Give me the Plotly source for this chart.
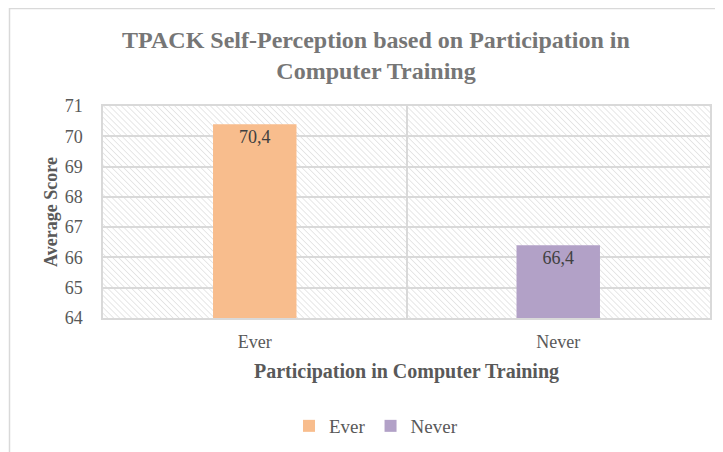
import base64
import plotly.graph_objects as go

categories = ["Ever", "Never"]
scores = [70.4, 66.4]
colors = ["#F8BD8D", "#B2A1C7"]
y_ticks = [64, 65, 66, 67, 68, 69, 70, 71]

title_text = "TPACK Self-Perception based on Participation in<br>Computer Training"
x_title = "Participation in Computer Training"
y_title = "Average Score"

FONT = "Liberation Serif, Times New Roman, serif"
GRID = "#d9d9d9"

# page body has an 8px margin, so the figure is 8px smaller and offset
W, H = 715, 444
L, T, R, B = 95, 98, 13, 134
PW, PH = W - L - R, H - T - B

svg = (
    f"<svg xmlns='http://www.w3.org/2000/svg' width='{PW}' height='{PH}'>"
    "<defs><pattern id='p' width='4.2' height='4.2' patternUnits='userSpaceOnUse' "
    "patternTransform='rotate(-45)'>"
    "<line x1='0' y1='0' x2='0' y2='4.2' stroke='#d4d4d4' stroke-width='1.1'/></pattern></defs>"
    "<rect width='100%' height='100%' fill='white'/>"
    "<rect width='100%' height='100%' fill='url(#p)'/></svg>"
)
svg_uri = "data:image/svg+xml;base64," + base64.b64encode(svg.encode()).decode()

fig = go.Figure()
for cat, val, col in zip(categories, scores, colors):
    fig.add_trace(go.Bar(
        x=[cat], y=[val], name=cat,
        marker=dict(color=col, line=dict(width=0)),
        width=0.275,
        texttemplate="%{y:.1f}", textposition="inside", insidetextanchor="end",
        textfont=dict(family=FONT, size=18, color="#404040"),
        cliponaxis=True,
    ))

fig.update_layout(
    width=W, height=H,
    margin=dict(l=L, r=R, t=T, b=B, autoexpand=False),
    paper_bgcolor="white",
    plot_bgcolor="rgba(0,0,0,0)",
    barmode="overlay",
    separators=",.",
    font=dict(family=FONT, color="#595959"),
    title=dict(text=title_text, x=368/W, xanchor="center", y=1 - 40/H, yanchor="top",
               font=dict(family=FONT, size=24, color="#767676", weight="bold")),
    legend=dict(orientation="h", x=(368-L)/PW, xanchor="center", y=(PH - (418 - T))/PH,
                yanchor="middle",
                font=dict(family=FONT, size=19, color="#595959"),
                itemwidth=30, traceorder="normal"),
    images=[dict(source=svg_uri, xref="paper", yref="paper", x=0, y=1, sizex=1, sizey=1,
                 sizing="stretch", layer="below")],
    shapes=[dict(type="rect", xref="paper", yref="paper",
                 x0=(1.5-L)/PW, x1=1.2, y0=-1.0, y1=(PH + T - 0.5)/PH,
                 line=dict(color="#d9d9d9", width=1.5), fillcolor="rgba(0,0,0,0)", layer="below")],
)

fig.update_xaxes(
    automargin=False,
    type="category", categoryorder="array", categoryarray=categories,
    tickson="boundaries", showgrid=True, gridcolor=GRID, gridwidth=1.5,
    showline=True, mirror=True, linecolor=GRID, linewidth=1.5,
    ticks="", ticklabelstandoff=7,
    tickfont=dict(family=FONT, size=18, color="#595959"),
    title=dict(text=x_title, standoff=13, font=dict(family=FONT, size=20, color="#595959", weight="bold")),
)
fig.update_yaxes(
    automargin=False,
    range=[64, 71], tickvals=y_ticks, showgrid=True, gridcolor=GRID, gridwidth=1.5,
    showline=True, mirror=True, linecolor=GRID, linewidth=1.5, zeroline=False,
    ticks="", ticklabelstandoff=15,
    tickfont=dict(family=FONT, size=18, color="#595959"),
    title=dict(text=y_title, standoff=2, font=dict(family=FONT, size=18, color="#595959", weight="bold")),
)

fig.write_html("out.html")
